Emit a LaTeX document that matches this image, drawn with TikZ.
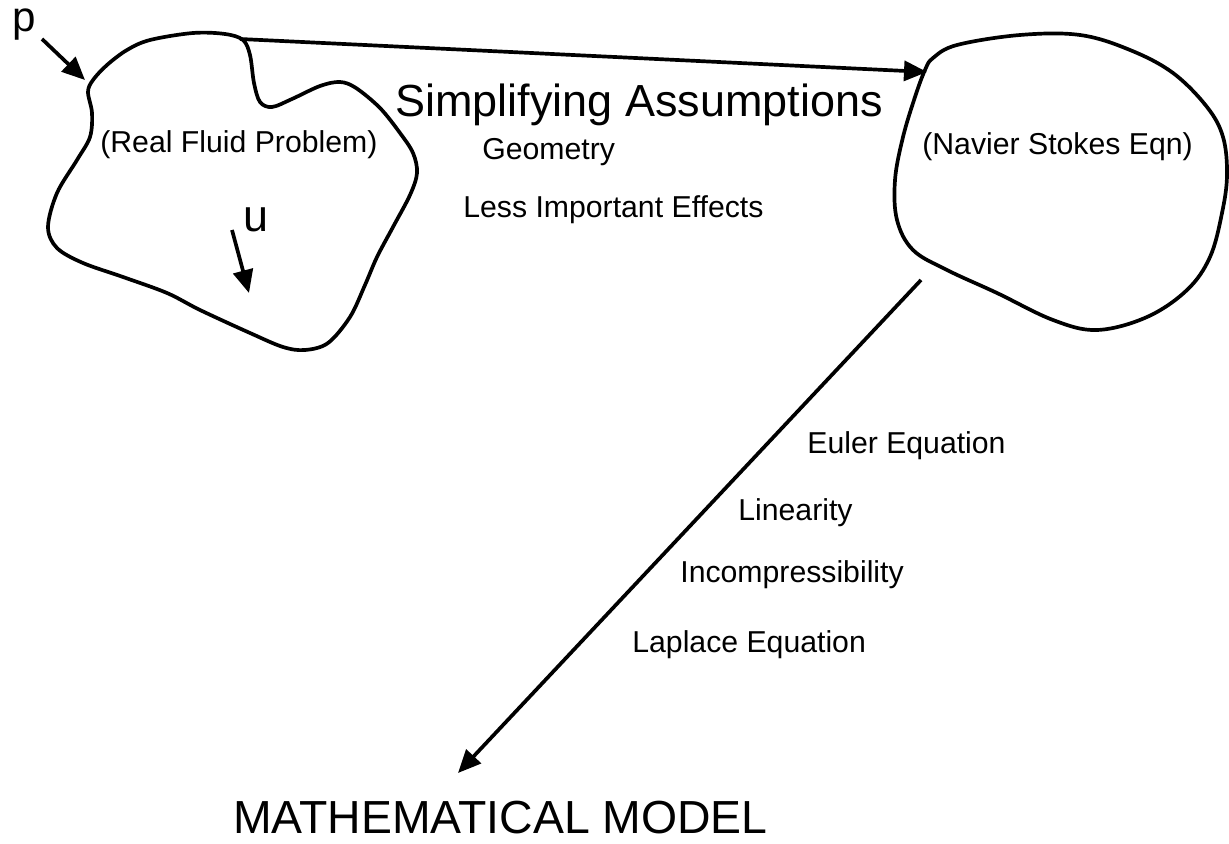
\documentclass[tikz,border=0pt]{standalone}
\usepackage{fontspec}
\setmainfont{Liberation Sans}
\usetikzlibrary{arrows.meta}

\begin{document}
\begin{tikzpicture}[x=0.02cm, y=-0.02cm,
    blob/.style={line width=2.1pt, line join=round},
    arr/.style={line width=2.1pt, -{Triangle[length=0.46cm, width=0.4cm]}},
    small/.style={font=\fontsize{17.2}{20}\selectfont, anchor=base west, inner sep=0pt},
    big/.style={font=\fontsize{25.6}{30}\selectfont, anchor=base west, inner sep=0pt}]
    \useasboundingbox (0,0) rectangle (1229,844);

    % Real fluid blob
    \draw[blob] plot[smooth cycle, tension=0.55] coordinates {
        (243,40) (250,55) (254,83) (260,102) (272,107) (292,99) (320,86)
        (340,82) (356,88) (380,108) (400,133) (413,153) (417,173) (410,195)
        (393,227) (377,257) (365,285) (350,317) (328,343) (305,350)
        (283,347) (250,333) (200,310) (167,293) (123,277) (83,263)
        (57,248) (48,227) (57,193) (77,160) (90,137) (92,113) (88,92)
        (93,80) (107,65) (127,50) (150,40) (193,33) (225,34)};

    % Navier Stokes blob
    \draw[blob] plot[smooth cycle, tension=0.6] coordinates {
        (933,58) (957,45) (1020,35) (1080,35) (1130,50) (1173,73)
        (1207,107) (1223,137) (1227,175) (1222,213) (1210,257)
        (1187,290) (1147,317) (1097,330) (1053,320) (997,293)
        (947,270) (913,250) (897,220) (895,180) (903,137) (915,97)
        (925,70)};

    % Attach points
    \coordinate (realtop) at (240,39);
    \coordinate (nsleft) at (927,72);
    \coordinate (nsfoot) at (921,280);
    \coordinate (modeltop) at (458,773);
    \coordinate (ptail) at (42,39);
    \coordinate (phead) at (85,80);
    \coordinate (utail) at (232,230);
    \coordinate (uhead) at (249,293);

    % Labels
    \node[big, font=\fontsize{24}{28}\selectfont] (p) at (12,32) {p};
    \node[big] (u) at (243,232) {u};
    \node[small] (real) at (100,153) {(Real Fluid Problem)};
    \node[small] (navier) at (922,155) {(Navier Stokes Eqn)};
    \node[big] (simp) at (395,117) {Simplifying Assumptions};
    \node[small] (geom) at (482,160) {Geometry};
    \node[small] (less) at (463,218) {Less Important Effects};
    \node[small] (euler) at (807,453) {Euler Equation};
    \node[small] (lin) at (738,520) {Linearity};
    \node[small] (incomp) at (680,582) {Incompressibility};
    \node[small] (laplace) at (632,652) {Laplace Equation};
    \node[big, font=\fontsize{26.4}{30}\selectfont] (model) at (233,833) {MATHEMATICAL MODEL};

    % Arrows
    \draw[arr] (realtop) -- (nsleft);
    \draw[arr] (nsfoot) -- (modeltop);
    \draw[arr] (ptail) -- (phead);
    \draw[arr] (utail) -- (uhead);
\end{tikzpicture}
\end{document}
